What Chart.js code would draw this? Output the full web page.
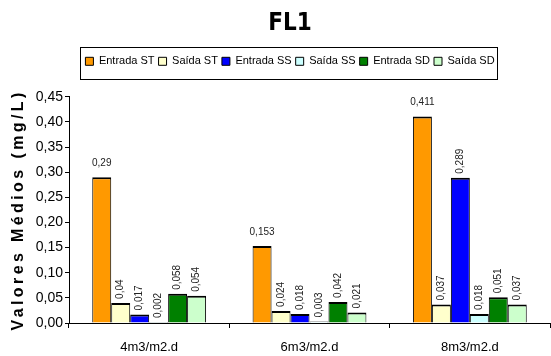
<!DOCTYPE html>
<html>
<head>
<meta charset="utf-8">
<script src="https://cdn.jsdelivr.net/npm/chart.js@4"></script>
<style>
  html, body { margin: 0; padding: 0; background: #fff; }
  #wrap { width: 551px; height: 356px; }
</style>
</head>
<body>
<div id="wrap"><canvas id="fl1"></canvas></div>
<script>
var categories = ['4m3/m2.d', '6m3/m2.d', '8m3/m2.d'];
var seriesNames = ['Entrada ST', 'Saída ST', 'Entrada SS', 'Saída SS', 'Entrada SD', 'Saída SD'];
var entradaST = [0.29, 0.153, 0.411];
var saidaST = [0.04, 0.024, 0.037];
var entradaSS = [0.017, 0.018, 0.289];
var saidaSS = [0.002, 0.003, 0.018];
var entradaSD = [0.058, 0.042, 0.051];
var saidaSD = [0.054, 0.021, 0.037];
var colors = ['#FF9900', '#FFFFCC', '#0000FF', '#CCFFFF', '#008000', '#CCFFCC'];

var values = [entradaST, saidaST, entradaSS, saidaSS, entradaSD, saidaSD];
var FONT = '"Liberation Sans", Arial, sans-serif';

function fmt(v) {
  return String(v).replace('.', ',');
}

// value labels: first series horizontal, the rest rotated
var barLabels = {
  id: 'barLabels',
  afterDatasetsDraw: function(chart) {
    var ctx = chart.ctx;
    ctx.save();
    ctx.fillStyle = '#222';
    ctx.font = '10px ' + FONT;
    chart.data.datasets.forEach(function(ds, i) {
      var meta = chart.getDatasetMeta(i);
      meta.data.forEach(function(bar, j) {
        var txt = fmt(ds.data[j]);
        if (i === 0) {
          ctx.textAlign = 'center';
          ctx.textBaseline = 'bottom';
          ctx.fillText(txt, bar.x, bar.y - 9);
        } else {
          ctx.save();
          ctx.translate(bar.x, bar.y - 4);
          ctx.rotate(-Math.PI / 2);
          ctx.textAlign = 'left';
          ctx.textBaseline = 'middle';
          ctx.fillText(txt, 0, 0);
          ctx.restore();
        }
      });
    });
    ctx.restore();
  }
};

// extra room under the legend, frame around it, spaced-out y title
var extras = {
  id: 'extras',
  afterInit: function(chart) {
    var lg = chart.legend;
    var fit = lg.fit;
    lg.fit = function() {
      fit.call(this);
      this.height += 20;
    };
  },
  afterDraw: function(chart) {
    var ctx = chart.ctx;
    var boxes = chart.legend.legendHitBoxes;
    var l = Infinity, r = -Infinity, t = Infinity, b = -Infinity;
    boxes.forEach(function(h) {
      l = Math.min(l, h.left); r = Math.max(r, h.left + h.width);
      t = Math.min(t, h.top); b = Math.max(b, h.top + h.height);
    });
    ctx.save();
    ctx.strokeStyle = '#000';
    ctx.lineWidth = 1;
    ctx.strokeRect(Math.round(l - 5) + 0.5, Math.round(t - 9) + 0.5, Math.round(r - l + 8), Math.round(b - t + 21));

    var area = chart.chartArea;
    ctx.translate(19, (area.top + area.bottom) / 2);
    ctx.rotate(-Math.PI / 2);
    ctx.font = 'bold 16px ' + FONT;
    ctx.letterSpacing = '3.4px';
    ctx.fillStyle = '#000';
    ctx.textAlign = 'center';
    ctx.textBaseline = 'middle';
    ctx.fillText('Valores Médios (mg/L)', 0, 0);
    ctx.restore();
  }
};

var datasets = seriesNames.map(function(name, i) {
  return {
    label: name,
    data: values[i],
    backgroundColor: colors[i],
    borderColor: '#000',
    borderWidth: { top: 2, left: 1, right: 1, bottom: 0 },
    barPercentage: 1,
    categoryPercentage: 0.71
  };
});

new Chart(document.getElementById('fl1'), {
  type: 'bar',
  data: { labels: categories, datasets: datasets },
  plugins: [barLabels, extras],
  options: {
    responsive: true,
    maintainAspectRatio: false,
    animation: false,
    layout: { padding: { left: 30, right: 1, top: 0, bottom: 0 } },
    plugins: {
      title: {
        display: true,
        text: 'FL1',
        color: '#000',
        font: { family: '"DejaVu Sans Condensed", ' + FONT, size: 24, weight: 'bold' },
        padding: { top: 9, bottom: 14 }
      },
      legend: {
        position: 'top',
        labels: {
          color: '#000',
          boxWidth: 8,
          boxHeight: 8,
          padding: 4,
          font: { family: FONT, size: 11 },
          generateLabels: function(chart) {
            return chart.data.datasets.map(function(ds, i) {
              return {
                text: ds.label,
                fillStyle: ds.backgroundColor,
                strokeStyle: '#000',
                lineWidth: 1,
                datasetIndex: i
              };
            });
          }
        }
      },
      tooltip: { enabled: false }
    },
    scales: {
      x: {
        afterFit: function(scale) { scale.height = 33; },
        grid: { display: true, drawOnChartArea: false, color: '#000', tickLength: 5, offset: true },
        border: { color: '#000' },
        ticks: {
          color: '#000',
          padding: 12,
          font: { family: FONT, size: 13 }
        }
      },
      y: {
        min: 0,
        max: 0.45,
        afterFit: function(scale) { scale.width = 39; },
        grid: { display: true, drawOnChartArea: false, color: '#000', tickLength: 4 },
        border: { color: '#000' },
        ticks: {
          stepSize: 0.05,
          color: '#000',
          padding: 2,
          font: { family: FONT, size: 14 },
          callback: function(v) { return v.toFixed(2).replace('.', ','); }
        }
      }
    }
  }
});
</script>
</body>
</html>
